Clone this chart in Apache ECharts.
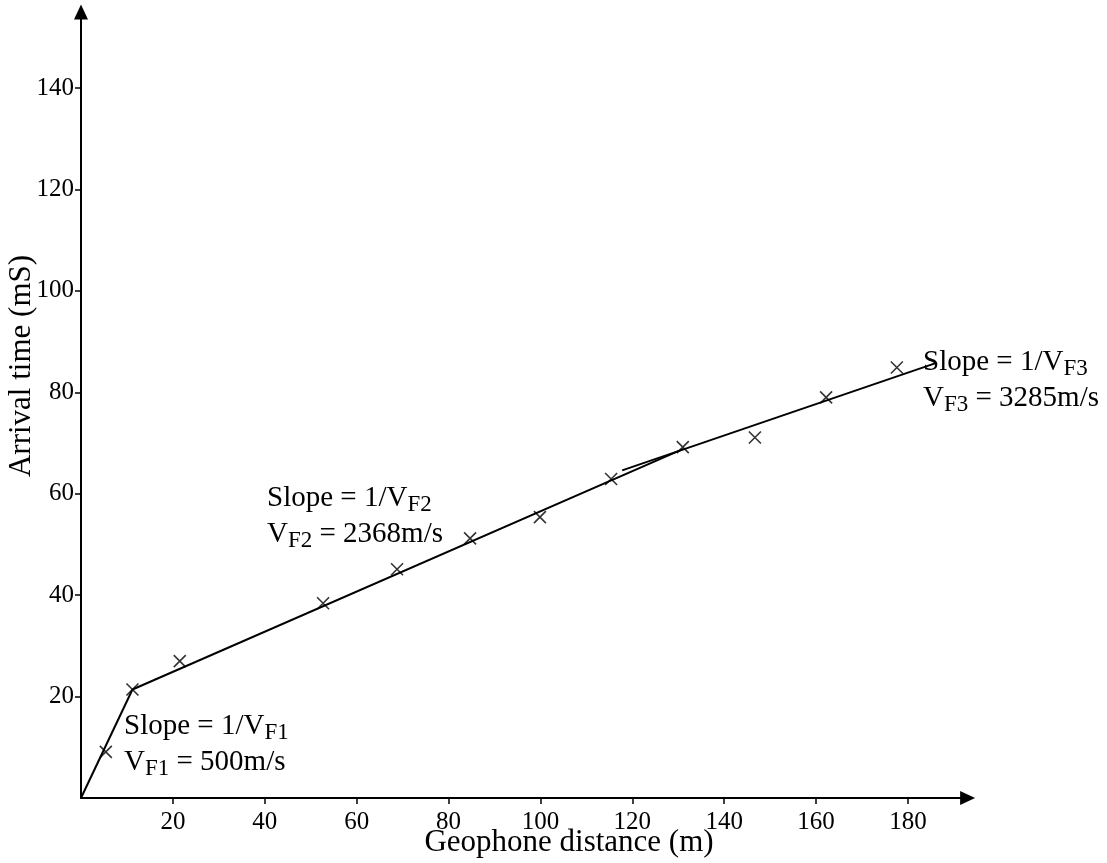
<!DOCTYPE html>
<html><head><meta charset="utf-8">
<script src="https://cdn.jsdelivr.net/npm/echarts@6/dist/echarts.min.js"></script>
<style>html,body{margin:0;padding:0;background:#fff}#c{width:1107px;height:863px}</style>
</head><body><div id="c"></div>
<script>
// Observed first arrivals
const distances    = [5.4, 11.2, 21.5, 52.7, 68.8, 84.7, 99.9, 115.4, 131.0, 146.7, 162.2, 177.6];
const arrivalTimes = [9.1, 21.4, 27.0, 38.4, 45.1, 51.2, 55.4, 62.9, 69.2, 71.1, 79.0, 84.9];
// Fitted segments
const fit1X = [0, 11.2];      const fit1Y = [0, 21.4];
const fit2X = [11.2, 131.0];  const fit2Y = [21.4, 68.8];
const fit3X = [117.8, 185.9]; const fit3Y = [64.6, 85.7];
// Tick labels
const xTicks = [20, 40, 60, 80, 100, 120, 140, 160, 180];
const yTicks = [20, 40, 60, 80, 100, 120, 140];

const FONT = "'Liberation Serif', 'Times New Roman', serif";
const zip = (a, b) => a.map((v, i) => [v, b[i]]);
const chart = echarts.init(document.getElementById('c'), null, {renderer: 'canvas'});

const rich = {
  n: {fontSize: 29, fontFamily: FONT, color: '#000', lineHeight: 36},
  s: {fontSize: 23, fontFamily: FONT, color: '#000', padding: [12, 0, 0, 0], lineHeight: 23}
};
function note(x, y, k, v) {
  return {
    type: 'text', left: x, top: y, z: 10,
    style: {
      text: '{n|Slope = 1/V}{s|' + k + '}\n{n|V}{s|' + k + '}{n| = ' + v + '}',
      rich: rich, fill: '#000'
    }
  };
}

const lineSeries = (xs, ys) => ({
  type: 'line', data: zip(xs, ys), symbol: 'none', silent: true,
  lineStyle: {color: '#000', width: 2}, z: 2, animation: false
});

chart.setOption({
  animation: false,
  backgroundColor: '#fff',
  grid: {left: 81, right: 139.4, top: 12, bottom: 65, containLabel: false},
  xAxis: {
    type: 'value', min: 0, max: 193, interval: 20,
    axisLine: {show: true, onZero: true, symbol: ['none', 'triangle'], symbolSize: [14, 15],
      lineStyle: {color: '#000', width: 2}},
    axisTick: {show: true, length: 6, lineStyle: {color: '#000', width: 1.5}, customValues: xTicks},
    axisLabel: {show: true, margin: 12, color: '#000', fontSize: 25, fontFamily: FONT, customValues: xTicks},
    splitLine: {show: false}
  },
  yAxis: {
    type: 'value', min: 0, max: 155, interval: 20,
    axisLine: {show: true, onZero: false, symbol: ['none', 'triangle'], symbolSize: [14, 15],
      lineStyle: {color: '#000', width: 2}},
    axisTick: {show: true, length: 6, lineStyle: {color: '#000', width: 1.5}, customValues: yTicks},
    axisLabel: {show: true, margin: 7, color: '#000', fontSize: 25, fontFamily: FONT, customValues: yTicks},
    splitLine: {show: false}
  },
  graphic: [
    {type: 'text', x: 569, y: 843, z: 10,
      style: {text: 'Geophone distance (m)', fontSize: 31, fontFamily: FONT, fill: '#000',
        textAlign: 'center', textVerticalAlign: 'middle'}},
    {type: 'text', x: 22, y: 366, rotation: Math.PI / 2, z: 10,
      style: {text: 'Arrival time (mS)', fontSize: 31, fontFamily: FONT, fill: '#000',
        textAlign: 'center', textVerticalAlign: 'middle'}},
    note(124, 709, 'F1', '500m/s'),
    note(267, 481, 'F2', '2368m/s'),
    note(923, 345, 'F3', '3285m/s')
  ],
  series: [
    lineSeries(fit1X, fit1Y),
    lineSeries(fit2X, fit2Y),
    lineSeries(fit3X, fit3Y),
    {
      type: 'scatter', data: zip(distances, arrivalTimes), z: 3,
      symbol: 'path://M0,0L10,10M0,10L10,0', symbolSize: 12,
      itemStyle: {color: 'rgba(0,0,0,0)', borderColor: '#000', borderWidth: 1.6},
      silent: true
    }
  ]
});
</script></body></html>
